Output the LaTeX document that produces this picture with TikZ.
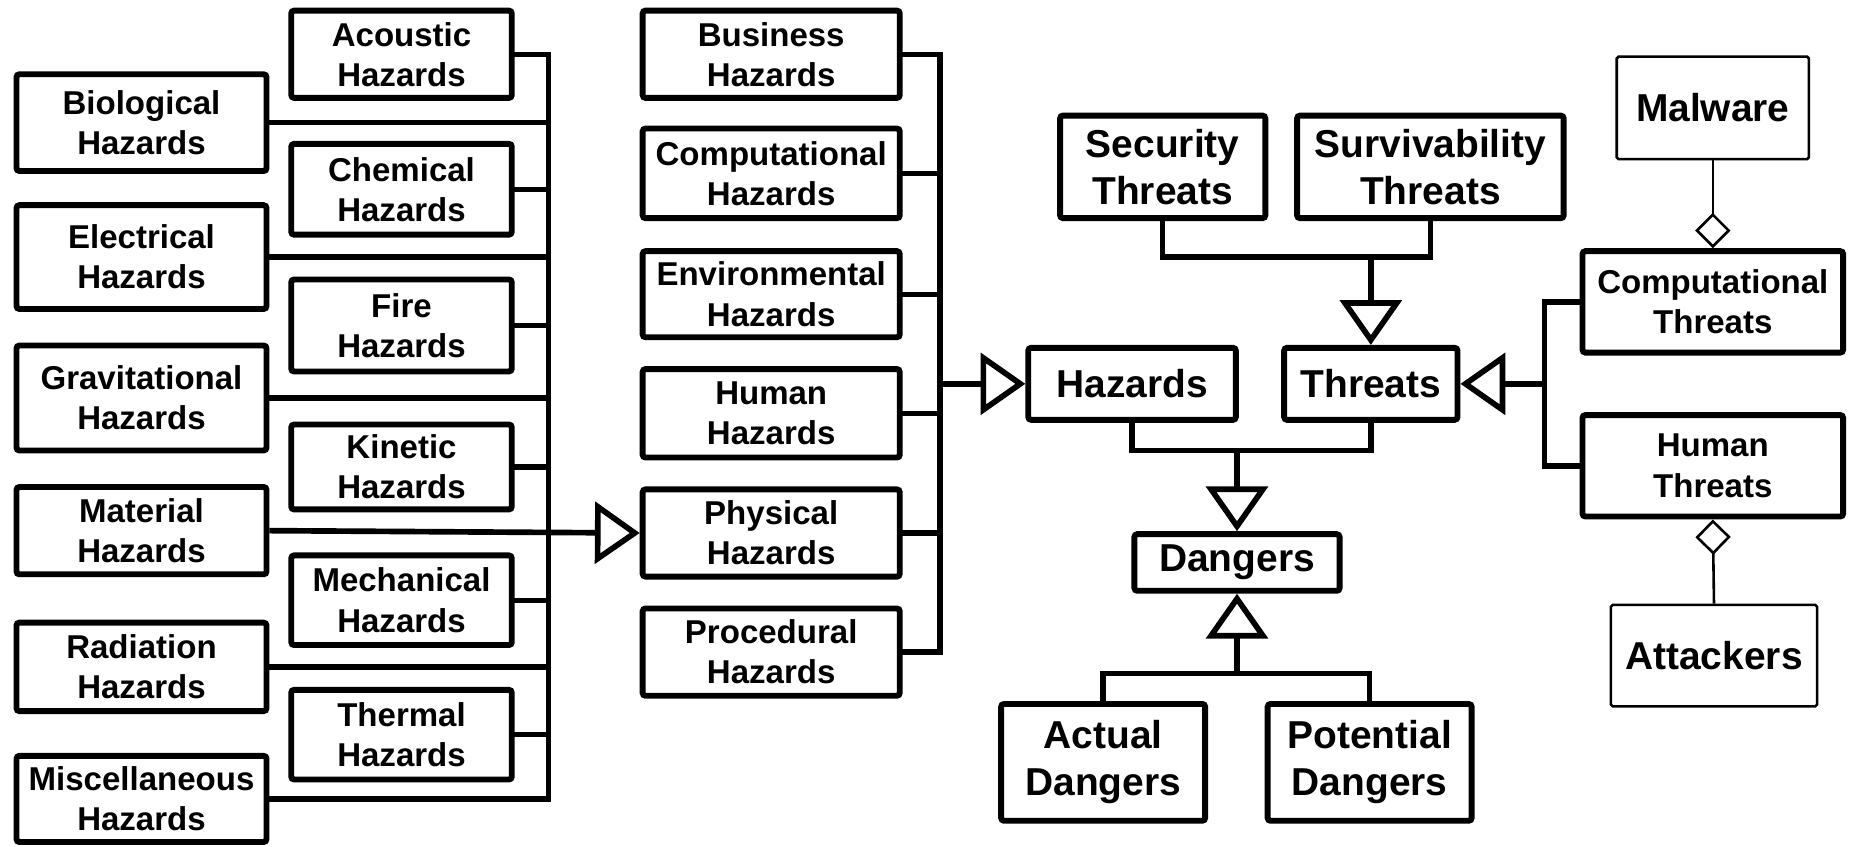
\documentclass[tikz,border=0pt]{standalone}
\usepackage{fontspec}
\setmainfont{Liberation Sans}
\usetikzlibrary{arrows.meta}
\begin{document}
\begin{tikzpicture}[x=0.5pt,y=-0.5pt,
  hbox/.style={draw,line width=2.5pt,rounded corners=1.2pt,inner sep=0pt,align=center,font=\bfseries\fontsize{14}{17}\selectfont},
  bigbox/.style={hbox,font=\bfseries\fontsize{16.5}{20}\selectfont},
  thinbox/.style={draw,line width=1.1pt,rounded corners=0.8pt,inner sep=0pt,align=center,font=\bfseries\fontsize{16.5}{20}\selectfont},
  conn/.style={line width=2.3pt,line cap=rect,line join=miter},
  gen/.style={line width=2.4pt,-{Triangle[open,length=19pt,width=26pt]}},
  agg/.style={line width=1.1pt,{Diamond[open,length=15pt,width=15pt]}-}]
\useasboundingbox (0,0) rectangle (1568,718);
% left column
\node[hbox,minimum width=106pt,minimum height=41pt] (bio) at (120,104) {Biological\\Hazards};
\node[hbox,minimum width=106pt,minimum height=44pt] (elec) at (120,218) {Electrical\\Hazards};
\node[hbox,minimum width=106pt,minimum height=44.5pt] (grav) at (120,337.5) {Gravitational\\Hazards};
\node[hbox,minimum width=106pt,minimum height=37pt] (mat) at (120,450) {Material\\Hazards};
\node[hbox,minimum width=106pt,minimum height=37.5pt] (rad) at (120,565.5) {Radiation\\Hazards};
\node[hbox,minimum width=106pt,minimum height=36.5pt] (misc) at (120,677.5) {Miscellaneous\\Hazards};
% second column
\node[hbox,minimum width=93.5pt,minimum height=37pt] (acou) at (340.5,46) {Acoustic\\Hazards};
\node[hbox,minimum width=93.5pt,minimum height=38.5pt] (chem) at (340.5,160.5) {Chemical\\Hazards};
\node[hbox,minimum width=93.5pt,minimum height=39pt] (fire) at (340.5,276) {Fire\\Hazards};
\node[hbox,minimum width=93.5pt,minimum height=36pt] (kin) at (340.5,396) {Kinetic\\Hazards};
\node[hbox,minimum width=93.5pt,minimum height=38pt] (mech) at (340.5,509) {Mechanical\\Hazards};
\node[hbox,minimum width=93.5pt,minimum height=38pt] (therm) at (340.5,623) {Thermal\\Hazards};
% third column
\node[hbox,minimum width=109pt,minimum height=37pt] (busi) at (654,46) {Business\\Hazards};
\node[hbox,minimum width=109pt,minimum height=38pt] (comph) at (654,147) {Computational\\Hazards};
\node[hbox,minimum width=109pt,minimum height=36.5pt] (env) at (654,249.5) {Environmental\\Hazards};
\node[hbox,minimum width=109pt,minimum height=37.5pt] (humh) at (654,350.5) {Human\\Hazards};
\node[hbox,minimum width=109pt,minimum height=37pt] (phys) at (654,452) {Physical\\Hazards};
\node[hbox,minimum width=109pt,minimum height=37pt] (proc) at (654,553) {Procedural\\Hazards};
% middle
\node[bigbox,minimum width=88pt,minimum height=30.5pt] (haz) at (960,325.5) {Hazards};
\node[bigbox,minimum width=73.5pt,minimum height=30.5pt] (thr) at (1162.5,325.5) {Threats};
\node[bigbox,minimum width=87pt,minimum height=43.5pt] (sec) at (986,141.5) {Security\\Threats};
\node[bigbox,minimum width=113pt,minimum height=43.5pt] (surv) at (1213,141.5) {Survivability\\Threats};
\node[bigbox,minimum width=87pt,minimum height=24pt] (dang) at (1049,477) {Dangers};
\node[bigbox,minimum width=86.5pt,minimum height=49.5pt] (act) at (935.5,646.5) {Actual\\Dangers};
\node[bigbox,minimum width=86.5pt,minimum height=49.5pt] (pot) at (1161.5,646.5) {Potential\\Dangers};
% right
\node[thinbox,minimum width=81.5pt,minimum height=43.5pt] (mal) at (1452.5,91.5) {Malware};
\node[hbox,minimum width=110.5pt,minimum height=43pt] (cthr) at (1452.5,256) {Computational\\Threats};
\node[hbox,minimum width=110.5pt,minimum height=43pt] (hthr) at (1452.5,395) {Human\\Threats};
\node[thinbox,minimum width=87.5pt,minimum height=43pt] (att) at (1453.5,556) {Attackers};
% bus 1
\coordinate (b1) at (465,0);
\draw[conn] (acou.east -| b1) -- (misc.east -| b1);
\foreach \n in {acou,bio,chem,elec,fire,grav,kin,mech,rad,therm,misc}
  \draw[conn] (\n.east) -- (\n.east -| b1);
\draw[gen] (mat.east) -- (phys.west);
% bus 2
\coordinate (b2) at (797,0);
\draw[conn] (busi.east -| b2) -- (proc.east -| b2);
\foreach \n in {busi,comph,env,humh,phys,proc}
  \draw[conn] (\n.east) -- (\n.east -| b2);
\draw[gen] (haz.west -| b2) -- (haz.west);
% threats
\coordinate (tj) at (1162.5,218);
\draw[conn] (sec.south) |- (tj) -| (surv.south);
\draw[gen] (tj) -- (thr.north);
% dangers
\coordinate (dj) at (1049,382);
\draw[conn] (haz.south) |- (dj) -| (thr.south);
\draw[gen] (dj) -- (dang.north);
\coordinate (dk) at (1049,571);
\draw[conn] (act.north) |- (dk) -| (pot.north);
\draw[gen] (dk) -- (dang.south);
% right bus
\coordinate (b3) at (1310,0);
\draw[conn] (cthr.west) -| (b3 |- thr.east) |- (hthr.west);
\draw[gen] (b3 |- thr.east) -- (thr.east);
% aggregations
\draw[agg] (cthr.north) -- (mal.south);
\draw[agg] (hthr.south) -- (att.north);
\end{tikzpicture}
\end{document}
